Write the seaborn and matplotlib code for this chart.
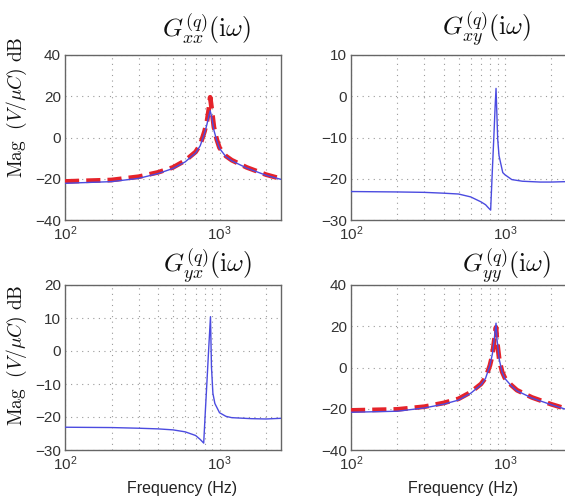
import numpy as np
import pandas as pd
import seaborn as sns
import matplotlib
matplotlib.use("Agg")
import matplotlib.pyplot as plt
from matplotlib.ticker import LogLocator, NullFormatter, FixedLocator

# ---------------- data ----------------
# G_xx : measured (blue) and model (red dashed)
f_xx = [100, 200, 300, 400, 500, 600, 700, 750, 800, 830, 850, 870, 890, 920, 960, 1000, 1100, 1200, 1500, 2000, 2500]
xx_blue = [-22.2, -21.4, -19.8, -17.5, -15.0, -11.8, -7.5, -4.0, 2.0, 6.5, 10.0, 13.0, 10.0, 3.5, -1.5, -5.3, -9.3, -11.3, -14.8, -18.3, -20.3]
xx_red = [-21.3, -20.6, -19.0, -16.9, -14.5, -11.2, -7.0, -3.5, 3.0, 8.0, 13.0, 19.5, 14.0, 5.0, -1.0, -5.0, -9.0, -11.0, -14.5, -18.0, -20.0]

# G_xy : measured (blue)
f_xy = [100, 200, 300, 400, 500, 600, 700, 750, 780, 809, 830, 850, 865, 877, 899, 917, 970, 1000, 1110, 1300, 1700, 2000, 2500]
xy_blue = [-23.1, -23.2, -23.3, -23.5, -23.7, -24.4, -25.6, -26.3, -27.0, -27.6, -18.0, -9.3, -2.6, 1.9, -10.3, -14.4, -18.5, -19.0, -20.2, -20.6, -20.8, -20.8, -20.7]

# G_yx : measured (blue)
f_yx = [100, 200, 300, 400, 500, 600, 700, 750, 790, 810, 830, 850, 874, 887, 906, 933, 1000, 1100, 1200, 1600, 2000, 2500]
yx_blue = [-23.1, -23.2, -23.4, -23.6, -23.9, -24.5, -25.6, -26.8, -27.9, -18.1, -9.0, 0.2, 10.4, -4.8, -12.8, -15.9, -18.7, -19.8, -20.2, -20.5, -20.6, -20.4]

# G_yy : measured (blue) and model (red dashed)
f_yy = [100, 200, 300, 400, 500, 600, 700, 750, 800, 830, 850, 877, 890, 920, 960, 1000, 1100, 1200, 1500, 2000, 2500]
yy_blue = [-21.7, -21.2, -19.6, -17.8, -15.8, -12.5, -8.4, -5.2, 1.0, 6.5, 12.5, 21.5, 13.5, 4.0, -2.2, -5.3, -8.8, -11.3, -14.8, -18.0, -20.3]
yy_red = [-20.8, -20.3, -19.0, -17.2, -15.2, -12.0, -8.0, -5.0, 1.0, 6.0, 12.0, 19.5, 13.0, 4.0, -2.0, -5.0, -8.5, -11.0, -14.5, -17.8, -20.0]

titles = [r"$G^{(q)}_{xx}(\mathrm{i}\omega)$", r"$G^{(q)}_{xy}(\mathrm{i}\omega)$",
          r"$G^{(q)}_{yx}(\mathrm{i}\omega)$", r"$G^{(q)}_{yy}(\mathrm{i}\omega)$"]
yticks = [[-40, -20, 0, 20, 40], [-30, -20, -10, 0, 10],
          [-30, -20, -10, 0, 10, 20], [-40, -20, 0, 20, 40]]
ylabel_text = r"$\mathrm{Mag}\ \ (V/\mu C)\ \mathrm{dB}$"
xlabel_text = "Frequency (Hz)"

# ---------------- figure ----------------
sns.set_style("white")
plt.rcParams["font.family"] = ["Liberation Sans", "DejaVu Sans"]
plt.rcParams["mathtext.fontset"] = "cm"
plt.rcParams["axes.unicode_minus"] = True

W, H = 565, 499
fig = plt.figure(figsize=(W / 100, H / 100), dpi=100)

def box(l, t, r, b):
    return [l / W, 1 - b / H, (r - l) / W, (b - t) / H]

positions = [box(65, 55, 281, 220), box(351, 55, 566, 220),
             box(65, 285, 281, 450), box(351, 285, 566, 450)]

blue = "#4b4be0"
red = "#e5232a"

series = [
    (f_xx, xx_blue, xx_red),
    (f_xy, xy_blue, None),
    (f_yx, yx_blue, None),
    (f_yy, yy_blue, yy_red),
]

axes = []
for i, pos in enumerate(positions):
    ax = fig.add_axes(pos)
    axes.append(ax)
    f, b, r = series[i]
    if r is not None:
        sns.lineplot(x=f, y=r, ax=ax, color=red, lw=3.4, estimator=None,
                     linestyle=(0, (3.0, 1.5)), zorder=3)
    sns.lineplot(x=f, y=b, ax=ax, color=blue, lw=1.0, estimator=None, zorder=4)
    ax.set_xscale("log")
    ax.set_xlim(100, 2500)
    yt = yticks[i]
    ax.set_ylim(yt[0], yt[-1])
    ax.yaxis.set_major_locator(FixedLocator(yt))
    ax.xaxis.set_major_locator(LogLocator(base=10))
    ax.xaxis.set_minor_locator(LogLocator(base=10, subs=np.arange(2, 10)))
    ax.xaxis.set_minor_formatter(NullFormatter())
    ax.grid(True, which="both", axis="x", ls=(0, (1, 4)), color="#9a9a9a", lw=0.8)
    ax.grid(True, which="major", axis="y", ls=(0, (1, 4)), color="#9a9a9a", lw=0.8)
    ax.tick_params(axis="both", which="both", direction="in", labelsize=11,
                   colors="#333333", length=3, width=0.6)
    ax.tick_params(axis="both", which="minor", length=2)
    ax.tick_params(axis="y", which="major", pad=3)
    ax.tick_params(axis="x", which="major", pad=3)
    for sp in ax.spines.values():
        sp.set_color("#666666")
        sp.set_linewidth(1.0)
    ax.set_xlabel("")
    ax.set_ylabel("")

# titles
title_pos = [(207, 29), (487, 29), (208, 266), (507, 266)]
for (x, y), t in zip(title_pos, titles):
    fig.text(x / W, 1 - y / H, t, ha="center", va="center", fontsize=18.5, color="#111111")

# y labels
for yc in (107, 355):
    fig.text(17 / W, 1 - yc / H, ylabel_text, rotation=90, ha="center", va="center",
             fontsize=14, color="#111111")

# x labels
for xc in (182, 463):
    fig.text(xc / W, 1 - 488 / H, xlabel_text, ha="center", va="center", fontsize=11.5,
             color="#222222")

fig.savefig("out.png", dpi=100)
